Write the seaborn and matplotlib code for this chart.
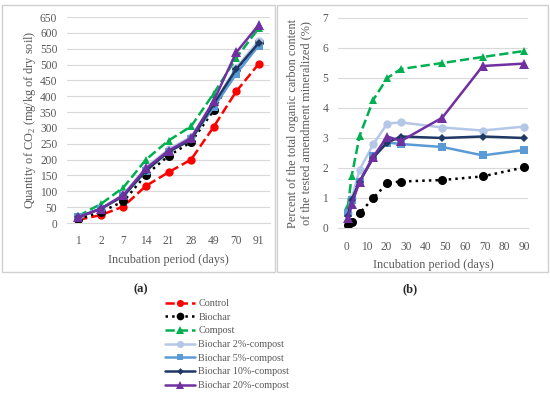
import numpy as np
import pandas as pd
import matplotlib
matplotlib.use("Agg")
import matplotlib.pyplot as plt
from matplotlib.patches import Rectangle
import seaborn as sns

# ---- data ----
days_a = ["1", "2", "7", "14", "21", "28", "49", "70", "91"]
days_b = [0.5, 2.5, 6.5, 13.5, 20.5, 27.5, 48.5, 69, 90]

co2_control = [10, 25, 52, 117, 160, 200, 303, 415, 502]
co2_biochar = [12, 35, 68, 152, 212, 255, 355, 485, 570]
co2_compost = [22, 60, 112, 200, 260, 305, 408, 520, 615]
co2_bc2 = [20, 45, 90, 175, 232, 272, 375, 490, 575]
co2_bc5 = [20, 45, 85, 165, 225, 265, 365, 470, 560]
co2_bc10 = [18, 45, 85, 165, 225, 262, 375, 485, 568]
co2_bc20 = [18, 45, 88, 172, 228, 268, 385, 538, 625]

pct_biochar = [0.1, 0.2, 0.5, 1.0, 1.5, 1.55, 1.6, 1.72, 2.02]
pct_compost = [0.72, 1.75, 3.08, 4.28, 5.0, 5.3, 5.5, 5.7, 5.9]
pct_bc2 = [0.5, 1.0, 1.95, 2.8, 3.48, 3.52, 3.35, 3.25, 3.38]
pct_bc5 = [0.5, 0.95, 1.55, 2.4, 2.85, 2.8, 2.7, 2.42, 2.6]
pct_bc10 = [0.4, 0.95, 1.55, 2.35, 2.85, 3.05, 3.0, 3.05, 3.0]
pct_bc20 = [0.35, 0.8, 1.55, 2.38, 3.05, 2.9, 3.68, 5.4, 5.48]

labels = ["Control", "Biochar", "Compost", "Biochar 2%-compost",
          "Biochar 5%-compost", "Biochar 10%-compost", "Biochar 20%-compost"]

# ---- styles ----
styles = {
    "Control": dict(color="#FF0000", linestyle="--", marker="o", markersize=6),
    "Biochar": dict(color="#000000", linestyle=":", marker="o", markersize=6.5),
    "Compost": dict(color="#00B050", linestyle="--", marker="^", markersize=6),
    "Biochar 2%-compost": dict(color="#B4C7E7", linestyle="-", marker="o", markersize=6),
    "Biochar 5%-compost": dict(color="#5B9BD5", linestyle="-", marker="s", markersize=5.5),
    "Biochar 10%-compost": dict(color="#203864", linestyle="-", marker="D", markersize=4),
    "Biochar 20%-compost": dict(color="#7030A0", linestyle="-", marker="^", markersize=6.5),
}

sns.set_style("white")
plt.rcParams["font.family"] = ["Liberation Serif", "DejaVu Serif"]
plt.rcParams["mathtext.fontset"] = "custom"
plt.rcParams["mathtext.rm"] = "Liberation Serif"
txt = "#595959"
grid = "#D9D9D9"
tick_fs = 8.3
lab_fs = 8.8

fig = plt.figure(figsize=(5.5, 3.96), dpi=100)
ax1 = fig.add_axes([67 / 550, 173 / 396, 203 / 550, 206 / 396])
ax2 = fig.add_axes([338 / 550, 168 / 396, 190 / 550, 210 / 396])

# panel (a)
series_a = dict(zip(labels, [co2_control, co2_biochar, co2_compost, co2_bc2,
                             co2_bc5, co2_bc10, co2_bc20]))
pos = np.arange(len(days_a))
for name in labels:
    st = styles[name]
    sns.lineplot(x=pos, y=series_a[name], ax=ax1, label=name, lw=1.8,
                 markeredgewidth=0, **st)

ax1.set_xlim(-0.5, len(days_a) - 0.5)
ax1.set_xticks(pos)
ax1.set_xticklabels(days_a)
ax1.set_ylim(0, 650)
ax1.set_yticks(range(0, 651, 50))
ax1.set_xlabel("Incubation period (days)", color=txt, fontsize=lab_fs, labelpad=5)
ax1.set_ylabel("Quantity of CO$_2$ (mg/kg of dry soil)", color=txt, fontsize=lab_fs, labelpad=1)

# panel (b)
series_b = dict(zip(labels[1:], [pct_biochar, pct_compost, pct_bc2,
                                 pct_bc5, pct_bc10, pct_bc20]))
for name in labels[1:]:
    st = styles[name]
    sns.lineplot(x=days_b, y=series_b[name], ax=ax2, lw=1.8,
                 markeredgewidth=0, legend=False, **st)

ax2.set_xlim(-4.5, 92)
ax2.set_xticks(range(0, 91, 10))
ax2.set_ylim(0, 7)
ax2.set_yticks(range(0, 8))
ax2.set_xlabel("Incubation period (days)", color=txt, fontsize=lab_fs, labelpad=5)
ax2.set_ylabel("Percent of the total organic carbon content\nof the tested amendment mineralized (%)",
               color=txt, fontsize=lab_fs, labelpad=7)

for ax in (ax1, ax2):
    ax.yaxis.grid(True, color=grid, lw=0.8)
    ax.set_axisbelow(True)
    for s in ("top", "left", "right"):
        ax.spines[s].set_visible(False)
    ax.spines["bottom"].set_color(grid)
    ax.tick_params(axis="both", length=0, labelsize=tick_fs, colors=txt)
    ax.tick_params(axis="x", pad=9)
    ax.tick_params(axis="y", pad=7)

ax1.get_legend().remove()

# legend below
handles, leg_labels = ax1.get_legend_handles_labels()
fig.legend(handles, leg_labels, loc="upper left", bbox_to_anchor=(165 / 550, 1 - 299 / 396),
           frameon=False, fontsize=7.3, labelcolor=txt, handlelength=3.0, markerscale=0.85,
           handletextpad=0.3, labelspacing=0.45, borderaxespad=0, borderpad=0)

# panel frames and captions
for x0, x1 in [(2, 275), (277, 548)]:
    fig.patches.append(Rectangle((x0 / 550, 1 - 272 / 396), (x1 - x0) / 550, 267 / 396,
                                 transform=fig.transFigure, fill=False,
                                 edgecolor="#D0D0D0", lw=1.0))
fig.text(141 / 550, 1 - 289 / 396, "(a)", ha="center", va="center", fontsize=9, fontweight="bold")
fig.text(410 / 550, 1 - 289 / 396, "(b)", ha="center", va="center", fontsize=9, fontweight="bold")

fig.savefig("out.png", dpi=100)
